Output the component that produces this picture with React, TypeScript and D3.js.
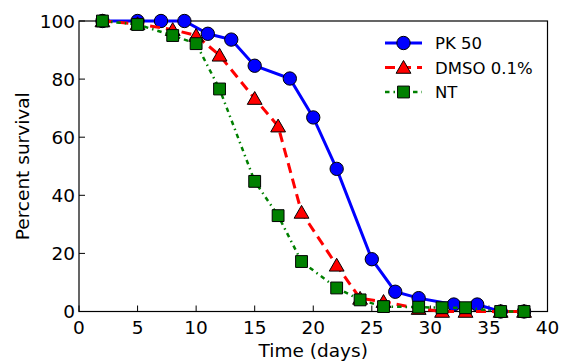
import React, { useEffect, useRef } from 'react';
import * as d3 from 'd3';

// survival data (days, percent)
const pkDays = [2, 5, 7, 9, 11, 13, 15, 18, 20, 22, 25, 27, 29, 32, 34, 36, 38];
const pkSurvival = [100, 100, 100, 100, 95.6, 93.6, 84.6, 80.2, 66.8, 49.1, 18, 6.8, 4.6, 2.4, 2.4, 0, 0];

const dmsoDays = [2, 5, 8, 10, 12, 15, 17, 19, 22, 24, 26, 29, 31, 33, 36, 38];
const dmsoSurvival = [100, 99, 97, 95, 88.2, 73.3, 63.8, 34.1, 15.9, 4.5, 3.4, 1, 0, 0, 0, 0];

const ntDays = [2, 5, 8, 10, 12, 15, 17, 19, 22, 24, 26, 29, 31, 33, 36, 38];
const ntSurvival = [100, 98.8, 95, 92.2, 76.6, 44.8, 33, 17.2, 8.1, 4, 1.7, 1.5, 1.3, 1.3, 0, 0];

const xTicks = [0, 5, 10, 15, 20, 25, 30, 35, 40];
const yTicks = [0, 20, 40, 60, 80, 100];
const seriesNames = ['PK 50', 'DMSO 0.1%', 'NT'];

const W = 562;
const H = 363;
const FONT = 'DejaVu Sans, sans-serif';

function SurvivalPlot() {
    const svgRef = useRef<SVGSVGElement>(null);

    useEffect(() => {
        const svg = d3.select(svgRef.current);
        svg.selectAll('*').remove();

        const left = 79, right = 547.5, top = 21, bottom = 311.5;
        const x = d3.scaleLinear().domain([0, 40]).range([left, right]);
        const y = d3.scaleLinear().domain([0, 100]).range([bottom, top]);

        const series = [
            { name: seriesNames[0], days: pkDays, vals: pkSurvival, color: '#0000ff', width: 3, dash: null, marker: 'circle' },
            { name: seriesNames[1], days: dmsoDays, vals: dmsoSurvival, color: '#ff0000', width: 3, dash: '10,6', marker: 'triangle' },
            { name: seriesNames[2], days: ntDays, vals: ntSurvival, color: '#008000', width: 2.5, dash: '4.5,4,1.5,4', marker: 'square' },
        ];

        const symbols: Record<string, d3.SymbolType> = {
            circle: d3.symbolCircle,
            triangle: d3.symbolTriangle,
            square: d3.symbolSquare,
        };
        const sizes: Record<string, number> = { circle: 140, triangle: 95, square: 140 };

        const line = d3.line<[number, number]>()
            .x(d => x(d[0]))
            .y(d => y(d[1]));

        // ticks point inward, bottom and left only
        const g = svg.append('g');
        xTicks.forEach(t => {
            g.append('line')
                .attr('x1', x(t)).attr('x2', x(t))
                .attr('y1', bottom).attr('y2', bottom - 6)
                .attr('stroke', '#000').attr('stroke-width', 1);
            g.append('text')
                .attr('x', x(t)).attr('y', bottom + 22)
                .attr('text-anchor', 'middle')
                .attr('font-family', FONT).attr('font-size', 18.5)
                .text(t);
        });
        yTicks.forEach(t => {
            g.append('line')
                .attr('x1', left).attr('x2', left + 6)
                .attr('y1', y(t)).attr('y2', y(t))
                .attr('stroke', '#000').attr('stroke-width', 1);
            g.append('text')
                .attr('x', left - 4).attr('y', y(t) + 6.5)
                .attr('text-anchor', 'end')
                .attr('font-family', FONT).attr('font-size', 18.5)
                .text(t);
        });

        // frame
        g.append('rect')
            .attr('x', left).attr('y', top)
            .attr('width', right - left).attr('height', bottom - top)
            .attr('fill', 'none').attr('stroke', '#000').attr('stroke-width', 1.2);

        // series
        series.forEach(s => {
            const pts = s.days.map((d, i) => [d, s.vals[i]] as [number, number]);
            g.append('path')
                .attr('d', line(pts))
                .attr('fill', 'none')
                .attr('stroke', s.color)
                .attr('stroke-width', s.width)
                .attr('stroke-dasharray', s.dash);
            g.selectAll(null).data(pts).enter().append('path')
                .attr('d', d3.symbol(symbols[s.marker], sizes[s.marker])())
                .attr('transform', d => `translate(${x(d[0])},${y(d[1]) + (s.marker === 'triangle' ? 1.5 : 0)})`)
                .attr('fill', s.color)
                .attr('stroke', '#000')
                .attr('stroke-width', 1);
        });

        // legend
        const lg = svg.append('g');
        series.forEach((s, i) => {
            const ly = 43 + i * 24.5;
            lg.append('line')
                .attr('x1', 385).attr('x2', 422)
                .attr('y1', ly).attr('y2', ly)
                .attr('stroke', s.color)
                .attr('stroke-width', s.width)
                .attr('stroke-dasharray', s.dash);
            lg.append('path')
                .attr('d', d3.symbol(symbols[s.marker], sizes[s.marker])())
                .attr('transform', `translate(403.5,${ly + (s.marker === 'triangle' ? 1.5 : 0)})`)
                .attr('fill', s.color)
                .attr('stroke', '#000')
                .attr('stroke-width', 1);
            lg.append('text')
                .attr('x', 435).attr('y', ly + 6)
                .attr('font-family', FONT).attr('font-size', 16.5)
                .text(s.name);
        });

        // axis labels
        svg.append('text')
            .attr('x', (left + right) / 2).attr('y', 357)
            .attr('text-anchor', 'middle')
            .attr('font-family', FONT).attr('font-size', 18.5)
            .text('Time (days)');
        svg.append('text')
            .attr('transform', `translate(29,${(top + bottom) / 2}) rotate(-90)`)
            .attr('text-anchor', 'middle')
            .attr('font-family', FONT).attr('font-size', 18.5)
            .text('Percent survival');
    }, []);

    return (
        <svg ref={svgRef} width={W} height={H} style={{ position: 'absolute', left: 0, top: 0, background: '#fff' }}></svg>
    );
}

export default function App() {
    return <SurvivalPlot />;
}
